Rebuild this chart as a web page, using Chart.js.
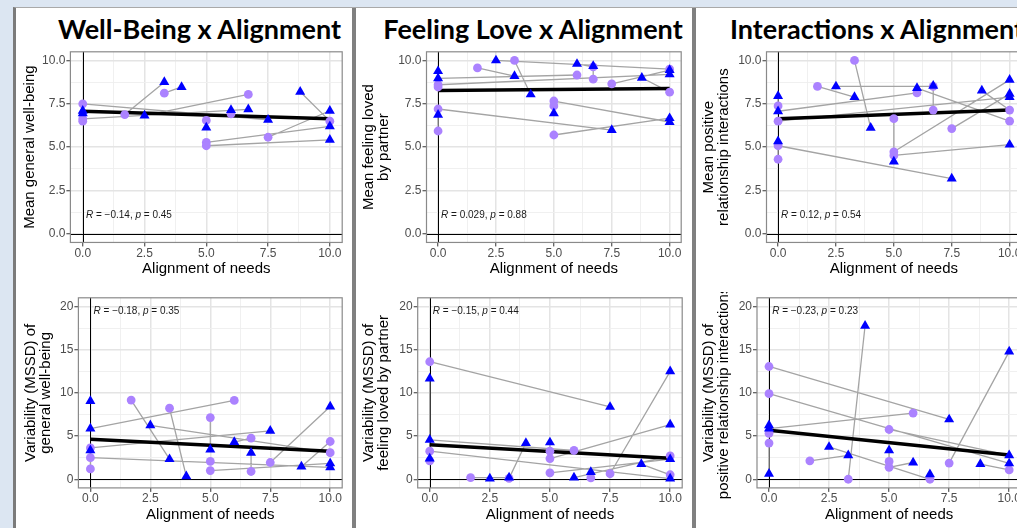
<!DOCTYPE html>
<html>
<head>
<meta charset="utf-8">
<script src="https://cdn.jsdelivr.net/npm/chart.js@4.4.1/dist/chart.umd.min.js"></script>
<style>
  html, body { margin: 0; padding: 0; width: 1017px; height: 528px; overflow: hidden; background: #dce6f2; }
  #sheet { position: absolute; left: 13px; top: 7px; width: 1100px; height: 600px; background: #fff;
           border-left: 3px solid #7b7b7b; border-top: 1px solid #a9a9a9; }
  .sep { position: absolute; top: 8px; width: 4px; height: 600px; background: #808080; }
  .title { position: absolute; transform: translateX(-50%); white-space: nowrap; font-family: Lato, sans-serif;
           font-weight: 700; font-size: 27px; line-height: 27px; color: #000; }
  canvas { position: absolute; }
</style>
</head>
<body>
<div id="sheet"></div>
<div class="sep" style="left:352px"></div>
<div class="sep" style="left:692px"></div>
<div class="title" style="left:199.5px; top:14.5px">Well-Being x Alignment</div>
<div class="title" style="left:533px; top:14.5px">Feeling Love x Alignment</div>
<div class="title" style="left:877px; top:14.5px">Interactions x Alignment</div>
<script>
// axis ticks
const alignTicks = [0, 2.5, 5, 7.5, 10];
const meanTicks = [0, 2.5, 5, 7.5, 10];
const mssdTicks = [0, 5, 10, 15, 20];

// each point: [alignment of needs, score]; P1 = purple circles, P2 = blue triangles
// pairs: [index in P1, index in P2] joined by a grey line
const wbMeanP1 = [[0,7.5],[0,6.63],[0,6.5],[1.7,6.88],[3.3,8.11],[5,6.54],[5,5.27],[5,5.08],[6,6.92],[6.7,8.04],[7.5,5.57],[10,6.5]];
const wbMeanP2 = [[0,7.1],[0,6.95],[2.5,6.82],[3.3,8.75],[4,8.47],[5,6.13],[6,7.14],[6.7,7.18],[7.5,6.58],[8.8,8.19],[10,7.1],[10,6.2],[10,5.42]];
const wbMeanPairs = [[0,8],[1,7],[2,0],[3,3],[4,4],[5,5],[6,11],[7,12],[8,6],[9,2],[10,10],[11,9]];
const wbMeanFit = [7.07, 6.64];
const wbMeanStat = ['\u22120.14', '0.45'];

const loveMeanP1 = [[0,8.6],[0,8.47],[0,7.2],[0,5.93],[1.7,9.57],[3.3,10],[5,7.66],[5,7.38],[5,5.7],[6,9.16],[6.7,9.63],[6.7,8.92],[7.5,8.65],[10,9.5],[10,8.17]];
const loveMeanP2 = [[0,9.38],[0,8.97],[0,6.86],[2.5,10],[3.3,9.1],[4,8.04],[5,6.95],[6,9.8],[6.7,9.68],[7.5,5.98],[8.8,9.0],[10,9.44],[10,9.2],[10,6.67],[10,6.45]];
const loveMeanPairs = [[0,12],[1,0],[2,9],[3,2],[4,4],[5,5],[6,14],[7,6],[8,13],[9,1],[10,7],[11,8],[12,11],[13,3],[14,10]];
const loveMeanFit = [8.26, 8.38];
const loveMeanStat = ['0.029', '0.88'];

const interMeanP1 = [[0,7.38],[0,6.5],[0,5.08],[0,4.3],[1.7,8.5],[3.3,10],[5,6.64],[5,4.73],[5,4.52],[6,8.13],[6.7,7.14],[7.5,6.07],[10,7.14],[10,6.5],[6.7,8.5]];
const interMeanP2 = [[0,7.94],[0,7.07],[0,5.33],[2.5,8.5],[3.3,7.89],[4,6.11],[5,4.17],[6,8.41],[6.7,8.54],[7.5,3.18],[8.8,8.26],[10,8.88],[10,8.07],[10,7.89],[10,5.14]];
const interMeanPairs = [[0,0],[1,13],[2,9],[3,2],[4,4],[5,5],[6,6],[7,11],[8,14],[9,1],[10,8],[11,12],[12,10],[13,7],[14,3]];
const interMeanFit = [6.64, 7.14];
const interMeanStat = ['0.12', '0.54'];

const wbMssdP1 = [[0,3.63],[0,2.5],[0,1.2],[1.7,9.16],[3.3,8.22],[5,7.14],[5,2.06],[5,1.01],[6,9.12],[6.7,4.75],[6.7,0.9],[7.5,1.94],[10,4.37],[10,3.07]];
const wbMssdP2 = [[0,9.05],[0,5.87],[0,3.36],[2.5,6.24],[3.3,2.32],[4,0.34],[5,3.44],[6,4.3],[6.7,3.07],[7.5,5.6],[8.8,1.46],[10,8.41],[10,1.83],[10,1.38]];
const wbMssdPairs = [[0,9],[1,13],[2,2],[3,4],[4,5],[5,6],[7,12],[8,1],[9,7],[10,8],[11,11],[12,10],[13,3]];
const wbMssdFit = [4.64, 3.25];
const wbMssdStat = ['\u22120.18', '0.35'];

const loveMssdP1 = [[0,13.6],[0,3.25],[0,2.13],[1.7,0.19],[3.3,0.1],[5,3.25],[5,2.4],[5,0.75],[6,3.33],[6.7,0.15],[7.5,0.64],[10,2.7],[10,0.52]];
const loveMssdP2 = [[0,11.66],[0,4.56],[0,2.4],[2.5,0.07],[3.3,0.19],[4,4.19],[5,4.26],[6,0.19],[6.7,0.82],[7.5,8.37],[8.8,1.76],[10,12.49],[10,6.32],[10,2.32],[10,0.07]];
const loveMssdPairs = [[0,9],[1,14],[2,0],[3,4],[4,5],[5,6],[6,12],[7,13],[8,1],[9,8],[10,11],[11,7],[12,10]];
const loveMssdFit = [4.0, 2.43];
const loveMssdStat = ['\u22120.15', '0.44'];

const interMssdP1 = [[0,13.05],[0,9.9],[0,5.3],[0,4.19],[1.7,2.13],[3.3,0],[5,5.76],[5,2.06],[5,1.38],[6,7.66],[6.7,0],[7.5,1.87],[10,1.08]];
const interMssdP2 = [[0,6.24],[0,5.87],[0,0.64],[2.5,3.74],[3.3,2.77],[4,17.76],[5,3.36],[6,1.94],[6.7,0.56],[7.5,6.92],[8.8,1.76],[10,14.77],[10,2.77],[10,1.83]];
const interMssdPairs = [[0,9],[1,13],[2,0],[3,2],[4,4],[5,5],[6,12],[7,6],[8,7],[9,1],[10,3],[11,11],[12,10]];
const interMssdFit = [5.68, 2.8];
const interMssdStat = ['\u22120.23', '0.23'];

Chart.defaults.font.family = '"Liberation Sans", Arial, sans-serif';

function withMinor(t) {
  const out = [];
  t.forEach((v, i) => { if (i > 0) out.push((t[i - 1] + v) / 2); out.push(v); });
  return out;
}

function gridOpts(major) {
  const val = c => (c.tick ? c.tick.value : NaN);
  return {
    color: c => major.includes(val(c)) ? '#e4e4e4' : '#eeeeee',
    lineWidth: c => major.includes(val(c)) ? 1.5 : 0.9,
    tickColor: c => major.includes(val(c)) ? '#333' : 'rgba(0,0,0,0)',
    tickLength: 4,
    tickWidth: 1
  };
}

// black reference lines at x = 0 and y = 0, under the marks
const zeroLines = {
  id: 'zeroLines',
  beforeDatasetsDraw(chart) {
    const { ctx, chartArea: a, scales: { x, y } } = chart;
    const px = Math.round(x.getPixelForValue(0)) + 0.5, py = Math.round(y.getPixelForValue(0)) + 0.5;
    ctx.save();
    ctx.strokeStyle = '#000';
    ctx.lineWidth = 1;
    ctx.beginPath();
    ctx.moveTo(px, a.top); ctx.lineTo(px, a.bottom);
    ctx.moveTo(a.left, py); ctx.lineTo(a.right, py);
    ctx.stroke();
    ctx.restore();
  }
};

// R / p annotation, R and p in italics
const statLabel = {
  id: 'statLabel',
  afterDatasetsDraw(chart, args, opts) {
    const { ctx, scales: { x, y } } = chart;
    let px = x.getPixelForValue(opts.x);
    const py = y.getPixelForValue(opts.y);
    const parts = [['R', true], [' = ' + opts.text[0] + ', ', false], ['p', true], [' = ' + opts.text[1], false]];
    ctx.save();
    ctx.fillStyle = '#1a1a1a';
    ctx.textBaseline = 'middle';
    parts.forEach(([s, it]) => {
      ctx.font = (it ? 'italic ' : '') + '10px "Liberation Sans", Arial, sans-serif';
      ctx.fillText(s, px, py);
      px += ctx.measureText(s).width;
    });
    ctx.restore();
  }
};

// panel border
const frame = {
  id: 'frame',
  afterDatasetsDraw(chart) {
    const { ctx, chartArea: a } = chart;
    ctx.save();
    ctx.strokeStyle = '#8a8a8a';
    ctx.lineWidth = 1.2;
    ctx.strokeRect(a.left, a.top, a.right - a.left, a.bottom - a.top);
    ctx.restore();
  }
};

function buildPanel(p) {
  const [L, T, R, B] = p.box;
  const left = Math.round(p.titleX - 7.5), top = Math.round(T);
  const width = Math.round(R) - left, height = Math.round(p.xTitleY + 7.5) - top;
  const yw = L - left, xh = height - (B - top);
  const cv = document.createElement('canvas');
  cv.width = width; cv.height = height;
  Object.assign(cv.style, { left: left + 'px', top: top + 'px', width: width + 'px', height: height + 'px' });
  document.body.appendChild(cv);

  const pt = a => ({ x: a[0], y: a[1] });
  const links = [];
  p.pairs.forEach(([i, j]) => links.push(pt(p.p1[i]), pt(p.p2[j]), { x: p.p1[i][0], y: null }));
  const xs = p.p1.concat(p.p2).map(a => a[0]);

  new Chart(cv, {
    type: 'scatter',
    data: {
      datasets: [
        { data: p.p2.map(pt), pointStyle: 'triangle', pointRadius: 5.8, pointHoverRadius: 5.8,
          pointBackgroundColor: '#0000ff', pointBorderWidth: 0, order: 1 },
        { data: p.p1.map(pt), pointStyle: 'circle', pointRadius: 4.4, pointHoverRadius: 4.4,
          pointBackgroundColor: '#ab82ff', pointBorderWidth: 0, order: 2 },
        { data: [{ x: Math.min(...xs), y: p.fit[0] }, { x: Math.max(...xs), y: p.fit[1] }], showLine: true,
          borderColor: '#000', borderWidth: 3.5, pointRadius: 0, order: 3 },
        { data: links, showLine: true, spanGaps: false, borderColor: '#a4a4a4', borderWidth: 1.3,
          pointRadius: 0, order: 4 }
      ]
    },
    options: {
      responsive: false, maintainAspectRatio: false, animation: false, events: [],
      layout: { padding: 0 },
      plugins: {
        legend: { display: false }, tooltip: { enabled: false },
        statLabel: { text: p.stat, x: 0.13, y: p.statY }
      },
      scales: {
        x: {
          type: 'linear', min: -0.5, max: 10.5,
          afterBuildTicks: s => { s.ticks = withMinor(alignTicks).map(v => ({ value: v })); },
          afterFit: s => { s.height = xh; s.paddingLeft = 0; s.paddingRight = 0; },
          ticks: { autoSkip: false, maxRotation: 0, padding: 0, color: '#4d4d4d', font: { size: 12 },
                   callback: v => alignTicks.includes(v) ? v.toFixed(1) : '' },
          grid: gridOpts(alignTicks), border: { display: false },
          title: { display: true, text: 'Alignment of needs', color: '#000', font: { size: 15, lineHeight: 1 }, padding: 0 }
        },
        y: {
          type: 'linear', min: p.yRange[0], max: p.yRange[1],
          afterBuildTicks: s => { s.ticks = withMinor(p.yTicks).map(v => ({ value: v })); },
          afterFit: s => { s.width = yw; s.paddingTop = 0; s.paddingBottom = 0; },
          ticks: { autoSkip: false, padding: 1, color: '#4d4d4d', font: { size: 12 },
                   callback: v => p.yTicks.includes(v) ? v.toFixed(p.yDigits) : '' },
          grid: gridOpts(p.yTicks), border: { display: false },
          title: { display: true, text: p.yTitle, color: '#000', font: { size: 15, lineHeight: 1 }, padding: 0 }
        }
      }
    },
    plugins: [zeroLines, statLabel, frame]
  });
}

const rowTop = { yTicks: meanTicks, yRange: [-0.5, 10.5], yDigits: 1, statY: 1.05, xTitleY: 268.5 };
const rowBottom = { yTicks: mssdTicks, yRange: [-1, 21], yDigits: 0, statY: 19.5, xTitleY: 514.5 };

buildPanel(Object.assign({}, rowTop, { p1: wbMeanP1, p2: wbMeanP2, pairs: wbMeanPairs, fit: wbMeanFit, stat: wbMeanStat,
  yTitle: 'Mean general well-being', box: [70.4, 46.1, 347.6, 242.45], titleX: 29 }));
buildPanel(Object.assign({}, rowTop, { p1: loveMeanP1, p2: loveMeanP2, pairs: loveMeanPairs, fit: loveMeanFit, stat: loveMeanStat,
  yTitle: ['Mean feeling loved', 'by partner'], box: [426.5, 46.1, 686.8, 242.45], titleX: 368.5 }));
buildPanel(Object.assign({}, rowTop, { p1: interMeanP1, p2: interMeanP2, pairs: interMeanPairs, fit: interMeanFit, stat: interMeanStat,
  yTitle: ['Mean positive', 'relationship interactions'], box: [766.5, 46.1, 1026.9, 242.45], titleX: 708 }));
buildPanel(Object.assign({}, rowBottom, { p1: wbMssdP1, p2: wbMssdP2, pairs: wbMssdPairs, fit: wbMssdFit, stat: wbMssdStat,
  yTitle: ['Variability (MSSD) of', 'general well-being'], box: [78.4, 291.8, 348.3, 487.9], titleX: 30 }));
buildPanel(Object.assign({}, rowBottom, { p1: loveMssdP1, p2: loveMssdP2, pairs: loveMssdPairs, fit: loveMssdFit, stat: loveMssdStat,
  yTitle: ['Variability (MSSD) of', 'feeling loved by partner'], box: [417.7, 291.8, 688, 487.9], titleX: 368 }));
buildPanel(Object.assign({}, rowBottom, { p1: interMssdP1, p2: interMssdP2, pairs: interMssdPairs, fit: interMssdFit, stat: interMssdStat,
  yTitle: ['Variability (MSSD) of', 'positive relationship interactions'], box: [757, 291.8, 1027.3, 487.9], titleX: 708 }));
</script>
</body>
</html>
